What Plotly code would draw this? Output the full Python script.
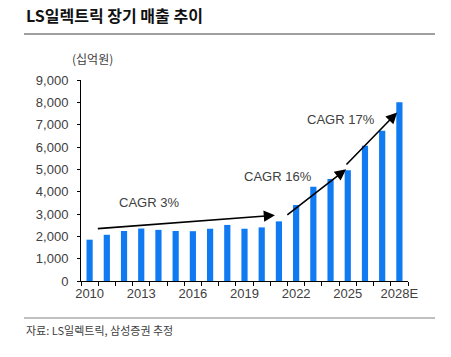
import plotly.graph_objects as go

years = ["2010", "2011", "2012", "2013", "2014", "2015", "2016", "2017", "2018", "2019",
         "2020", "2021", "2022", "2023", "2024", "2025", "2026", "2027", "2028E"]
sales = [1850, 2070, 2240, 2350, 2290, 2240, 2230, 2340, 2510, 2340,
         2400, 2670, 3400, 4220, 4570, 4960, 6060, 6730, 8000]
y_ticks = [0, 1000, 2000, 3000, 4000, 5000, 6000, 7000, 8000, 9000]

# CAGR arrows (x in category index units, y in 십억원)
arrows = [
    {"x0": 0.39, "y0": 2340, "x1": 10.77, "y1": 2940},
    {"x0": 11.40, "y0": 2910, "x1": 14.90, "y1": 5000},
    {"x0": 14.84, "y0": 5150, "x1": 17.87, "y1": 7550},
]
cagr_labels = [
    {"text": "CAGR 3%", "x": 3.44, "y": 3500},
    {"text": "CAGR 16%", "x": 10.96, "y": 4670},
    {"text": "CAGR 17%", "x": 14.59, "y": 7210},
]

xi = list(range(len(years)))
label_idx = [i for i in xi if i % 3 == 0]

FONT = "Liberation Sans, Arial, Noto Sans CJK KR, sans-serif"
KFONT = "Noto Sans CJK KR, sans-serif"
TXT = "#404040"

W, H = 451, 357
L, R, T, B = 81, 43, 80, 76

def px_to_paper(px, py):
    return (px - L) / (W - L - R), 1 - (py - T) / (H - T - B)

fig = go.Figure()
fig.add_trace(go.Bar(x=xi, y=sales, marker=dict(color="#0f7af2", line=dict(width=0)),
                     width=0.36, hoverinfo="skip"))

for a in arrows:
    fig.add_annotation(x=a["x1"], y=a["y1"], ax=a["x0"], ay=a["y0"],
                       xref="x", yref="y", axref="x", ayref="y",
                       showarrow=True, arrowhead=2, arrowsize=1.4, arrowwidth=1.6,
                       arrowcolor="#000000", text="")
for c in cagr_labels:
    fig.add_annotation(x=c["x"], y=c["y"], xref="x", yref="y", text=c["text"],
                       showarrow=False, font=dict(family=FONT, size=13, color=TXT))

def add_text(text, px, py, size, color, family):
    x, y = px_to_paper(px, py)
    fig.add_annotation(text=text, x=x, y=y, xref="paper", yref="paper", showarrow=False,
                       xanchor="left", yanchor="middle", font=dict(family=family, size=size, color=color))

add_text("<b>LS일렉트릭 장기 매출 추이</b>", 24, 15, 16, "#111111", KFONT)
add_text("(십억원)", 70, 58, 12, TXT, KFONT)
add_text("자료: LS일렉트릭, 삼성증권 추정", 24, 330, 11, TXT, KFONT)

x0p, y0p = px_to_paper(24, 34)
x1p, _ = px_to_paper(435, 34)
fig.add_shape(type="line", xref="paper", yref="paper", x0=x0p, x1=x1p, y0=y0p, y1=y0p,
              line=dict(color="#808080", width=1.5))
_, yb = px_to_paper(24, 318)
fig.add_shape(type="line", xref="paper", yref="paper", x0=x0p, x1=x1p, y0=yb, y1=yb,
              line=dict(color="#808080", width=1))

fig.update_layout(
    width=W, height=H, margin=dict(l=L, r=R, t=T, b=B, autoexpand=False),
    paper_bgcolor="white", plot_bgcolor="white", showlegend=False,
    xaxis=dict(range=[-0.5, len(years) - 0.5], tickvals=label_idx,
               ticktext=[years[i] for i in label_idx], ticks="", showgrid=False,
               zeroline=False, showline=True, linecolor="#000000", linewidth=1,
               tickfont=dict(family=FONT, size=13, color=TXT),
               minor=dict(tickvals=[i - 0.5 for i in xi] + [len(years) - 0.5],
                          ticks="outside", ticklen=4, tickcolor="#000000", showgrid=False)),
    yaxis=dict(range=[0, 9000], tickvals=y_ticks, ticktext=[f"{v:,}" for v in y_ticks],
               ticks="outside", ticklen=3, tickcolor="#000000", showgrid=False,
               zeroline=False, showline=True, linecolor="#000000", linewidth=1,
               ticklabelstandoff=6,
               tickfont=dict(family=FONT, size=13, color=TXT)),
)

fig.write_html("out.html", config={"displayModeBar": False, "staticPlot": True},
               post_script="document.body.style.margin='0';document.body.style.overflow='hidden';")
